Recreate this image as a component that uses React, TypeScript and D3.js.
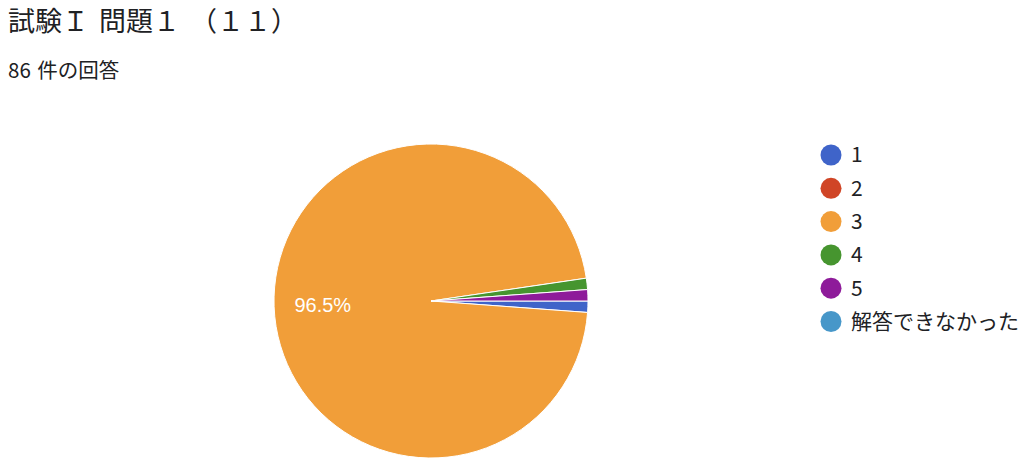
import React from "react";
import * as d3 from "d3";

const categories = ["1", "2", "3", "4", "5", "解答できなかった"];
const counts = [1, 0, 83, 1, 1, 0];
const colors = ["#3f64c9", "#d04526", "#f19e39", "#46952f", "#8e1b9a", "#4797c9"];
const title = "試験Ｉ 問題１ （１１）";
const subtitle = "86 件の回答";

export default function App() {
  const W = 1024, H = 468;
  const cx = 431, cy = 301, r = 157;
  const total = d3.sum(counts);
  const pie = d3.pie<number>().sort(null).value((d) => d)
    .startAngle(Math.PI / 2).endAngle(Math.PI / 2 + 2 * Math.PI);
  const arcs = pie(counts);
  const arc = d3.arc<d3.PieArcDatum<number>>().innerRadius(0).outerRadius(r);
  const labelArc = d3.arc<d3.PieArcDatum<number>>().innerRadius(r * 0.69).outerRadius(r * 0.69);
  const legendY = d3.scaleLinear().domain([0, 1]).range([155, 188.3]);
  const font = "'Noto Sans CJK JP', 'Noto Sans', sans-serif";
  return (
    <svg width={W} height={H} style={{ position: "absolute", left: 0, top: 0, background: "#fff" }}>
      <text x={8} y={31} fontSize={27} wordSpacing={4} fontFamily={font} fill="#202124">{title}</text>
      <text x={8} y={78} fontSize={20.5} wordSpacing={2} fontFamily={font} fill="#202124">{subtitle}</text>
      <g transform={`translate(${cx},${cy})`}>
        {arcs.map((a, i) => a.value > 0 && (
          <path key={i} d={arc(a) || ""} fill={colors[i]} stroke="#fff" strokeWidth={1} />
        ))}
        {arcs.map((a, i) => {
          if (a.value / total < 0.05) return null;
          const [lx, ly] = labelArc.centroid(a);
          return (
            <text key={"l" + i} x={lx} y={ly} dy="0.35em" textAnchor="middle" fontSize={20}
              fontFamily="'Liberation Sans', Arial, sans-serif" fill="#fff">
              {((a.value / total) * 100).toFixed(1) + "%"}
            </text>
          );
        })}
      </g>
      {categories.map((c, i) => (
        <g key={c} transform={`translate(0,${legendY(i)})`}>
          <circle cx={831} cy={0} r={10.5} fill={colors[i]} />
          <text x={851} y={0} dy="0.35em" fontSize={21} fontFamily={font} fill="#202124">{c}</text>
        </g>
      ))}
    </svg>
  );
}
